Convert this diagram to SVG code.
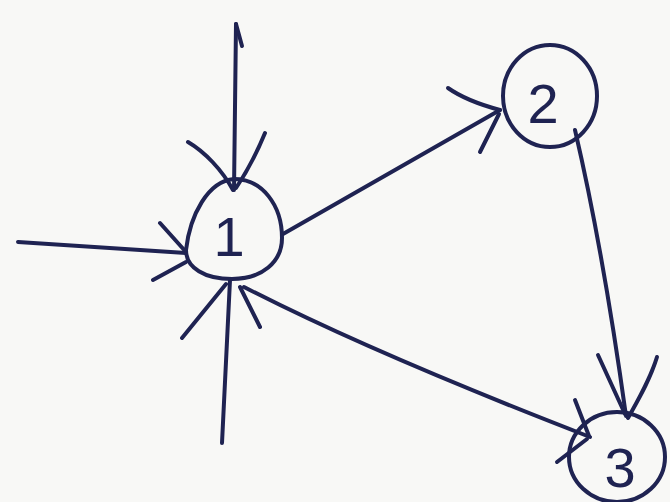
<svg xmlns="http://www.w3.org/2000/svg" width="670" height="502" viewBox="0 0 670 502">
<style>
.e{fill:none;stroke:#1f2352;stroke-width:4;stroke-linecap:round;stroke-linejoin:round}
.n{fill:none;stroke:#1f2352;stroke-width:4}
.t{font-family:"Liberation Sans",Arial,sans-serif;font-size:56px;fill:#1f2352;text-anchor:middle}
</style>
<rect width="670" height="502" fill="#f8f8f6"/>
<g id="connectors">
<!-- top vertical into node 1 -->
<path class="e" d="M236,24 L234,190"/>
<path class="e" d="M236,24 L242,46"/>
<path class="e" d="M188,142 C205,152 222,170 233,190 M265,133 C258,150 248,170 236,188"/>
<!-- left arrow into node 1 -->
<path class="e" d="M18,242 L186,253"/>
<path class="e" d="M160,223 L186,252 M153,280 L186,262"/>
<!-- bottom vertical into node 1 -->
<path class="e" d="M222,443 L230,280"/>
<path class="e" d="M182,338 L226,284 M260,327 L240,287"/>
<!-- 1 -> 2 -->
<path class="e" d="M283,234 L500,110"/>
<path class="e" d="M448,88 C465,100 485,106 500,110 M480,152 L499,114"/>
<!-- 2 -> 3 -->
<path class="e" d="M575,130 Q603,250 626,416"/>
<path class="e" d="M598,355 L625,414 M657,357 C650,380 638,400 628,418"/>
<!-- 3 <-> 1 -->
<path class="e" d="M244,287 Q370,352 590,437"/>
<path class="e" d="M575,400 L589,436 M557,462 L587,439"/>
</g>
<g id="node1">
<path class="n" d="M234,179 C208,181 190,215 186,250 C186,268 205,279 232,279 C262,279 282,262 282,238 C282,205 262,179 234,179 Z"/>
<text class="t" x="229" y="256">1</text>
</g>
<g id="node2">
<ellipse class="n" cx="550" cy="96" rx="47" ry="51"/>
<text class="t" x="543" y="123">2</text>
</g>
<g id="node3">
<ellipse class="n" cx="617" cy="457" rx="48" ry="45"/>
<text class="t" x="620" y="487">3</text>
</g>
</svg>
